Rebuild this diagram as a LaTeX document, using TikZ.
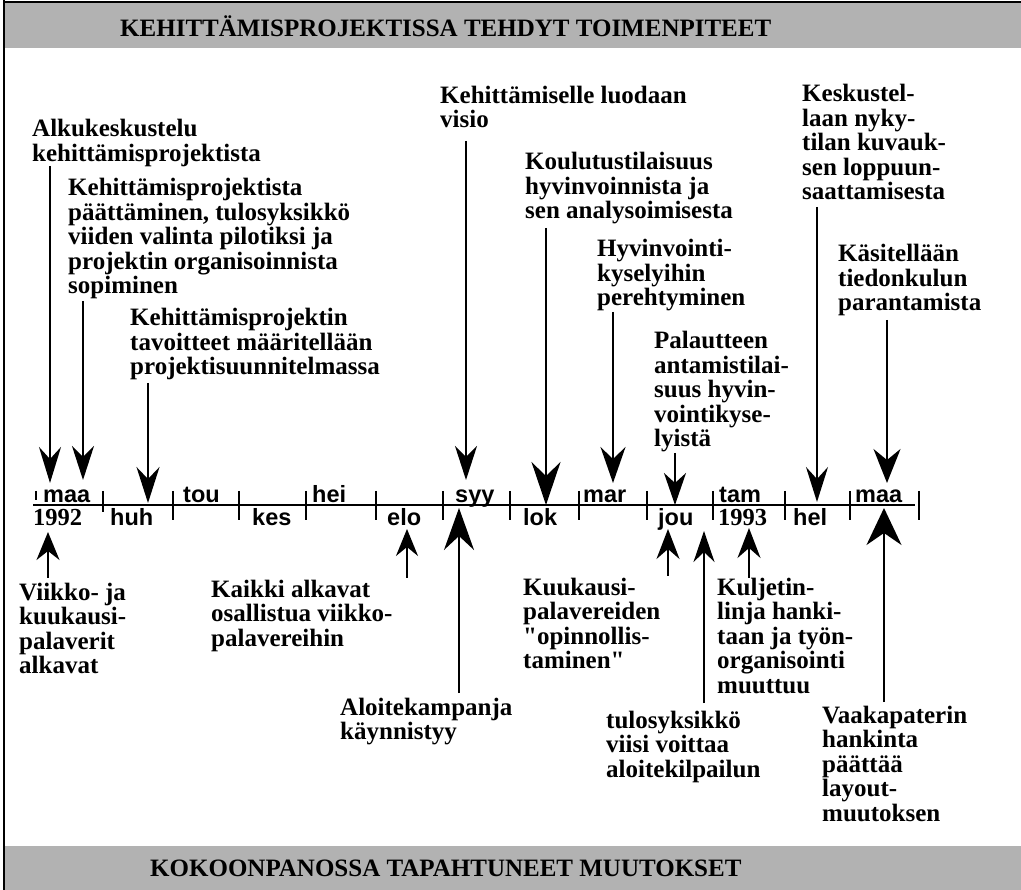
\documentclass[tikz,border=0pt]{standalone}
\usepackage{fontspec}
\setmainfont{Liberation Serif}
\newfontfamily\lsans{Liberation Sans}
\usetikzlibrary{arrows.meta}
\definecolor{band}{RGB}{178,178,178}
\newcommand{\sq}{\XeTeXglyph\XeTeXcharglyph"22\relax}
\begin{document}
\begin{tikzpicture}[x=1pt,y=-1pt,
  txt/.style={anchor=base west, align=left, inner sep=0pt, font=\bfseries\fontsize{25}{24.5}\selectfont},
  mon/.style={anchor=base west, inner sep=0pt, font=\lsans\bfseries\fontsize{23.5}{24}\selectfont},
  yr/.style={anchor=base west, inner sep=0pt, font=\bfseries\fontsize{24.5}{24}\selectfont},
  ttl/.style={anchor=base west, inner sep=0pt, font=\bfseries\fontsize{25}{25}\selectfont},
  tickline/.style={line width=2pt},
  arr/.style n args={3}{line width=2pt, -{Stealth[length=#1pt,width=#2pt,inset=#3pt]}},
]
\useasboundingbox (0,0) rectangle (1021,890);
% bands and frame
\fill[band] (4,2) rectangle (1021,48);
\fill[band] (4,846) rectangle (1021,890);
\draw[line width=2pt] (3,2) -- (1021,2);
\draw[line width=2.5pt] (4,0) -- (4,890);
\node[ttl] (hdr) at (120,37) {KEHITTÄMISPROJEKTISSA TEHDYT TOIMENPITEET};
\node[ttl] (ftr) at (150,876) {KOKOONPANOSSA TAPAHTUNEET MUUTOKSET};

% axis
\coordinate (ax0) at (33,505);
\coordinate (ax1) at (915,505);
\draw[line width=2pt] (ax0) -- (ax1);
\draw[tickline] (36,491) -- (36,500);
\draw[tickline] (103,491) -- (103,512);
\foreach \x in {173,239,306,376,443,510,579,647,713,785,850,919}
  \draw[tickline] (\x,491) -- (\x,520);

% month labels
\node[mon] (m1) at (43,503) {maa};
\node[mon] (m3) at (183,503) {tou};
\node[mon] (m5) at (312,503) {hei};
\node[mon] (m7) at (455,503) {syy};
\node[mon] (m9) at (583,503) {mar};
\node[mon] (m11) at (719,503) {tam};
\node[mon] (m13) at (855,503) {maa};
\node[yr] (y92) at (33,526) {1992};
\node[mon] (m2) at (110,526) {huh};
\node[mon] (m4) at (252,526) {kes};
\node[mon] (m6) at (387,526) {elo};
\node[mon] (m8) at (523,526) {lok};
\node[mon] (m10) at (658,526) {jou};
\node[yr] (y93) at (718,526) {1993};
\node[mon] (m12) at (793,526) {hel};

% upper texts (anchor = baseline of last line)
\node[txt] (tA) at (32,161.5) {Alkukeskustelu\\kehittämisprojektista};
\node[txt] (tB) at (68,294) {Kehittämisprojektista\\päättäminen, tulosyksikkö\\viiden valinta pilotiksi ja\\projektin organisoinnista\\sopiminen};
\node[txt] (tC) at (130,375) {Kehittämisprojektin\\tavoitteet määritellään\\projektisuunnitelmassa};
\node[txt] (tD) at (440,128) {Kehittämiselle luodaan\\visio};
\node[txt] (tE) at (525,219) {Koulutustilaisuus\\hyvinvoinnista ja\\sen analysoimisesta};
\node[txt] (tF) at (597,306) {Hyvinvointi-\\kyselyihin\\perehtyminen};
\node[txt] (tG) at (654,447) {Palautteen\\antamistilai-\\suus hyvin-\\vointikyse-\\lyistä};
\node[txt] (tH) at (802,200) {Keskustel-\\laan nyky-\\tilan kuvauk-\\sen loppuun-\\saattamisesta};
\node[txt] (tI) at (838,311) {Käsitellään\\tiedonkulun\\parantamista};

% lower texts
\node[txt] (bA) at (19,673.5) {Viikko- ja\\kuukausi-\\palaverit\\alkavat};
\node[txt] (bB) at (211,646) {Kaikki alkavat\\osallistua viikko-\\palavereihin};
\node[txt] (bC) at (340,739.5) {Aloitekampanja\\käynnistyy};
\node[txt] (bD) at (523,668.5) {Kuukausi-\\palavereiden\\\sq opinnollis-\\taminen\sq};
\node[txt] (bE) at (606,777) {tulosyksikkö\\viisi voittaa\\aloitekilpailun};
\node[txt] (bF) at (717,693) {Kuljetin-\\linja hanki-\\taan ja työn-\\organisointi\\muuttuu};
\node[txt] (bG) at (822,821) {Vaakapaterin\\hankinta\\päättää\\layout-\\muutoksen};

% upper arrows
\coordinate (a1s) at (50,166);  \coordinate (a1e) at (50,483);
\coordinate (a2s) at (83,301);  \coordinate (a2e) at (83,480);
\coordinate (a3s) at (148,383); \coordinate (a3e) at (148,503);
\coordinate (a4s) at (466,141); \coordinate (a4e) at (466,480);
\coordinate (a5s) at (546,228); \coordinate (a5e) at (546,505);
\coordinate (a6s) at (613,312); \coordinate (a6e) at (613,483);
\coordinate (a7s) at (675,453); \coordinate (a7e) at (675,505);
\coordinate (a8s) at (817,207); \coordinate (a8e) at (817,502);
\coordinate (a9s) at (887,320); \coordinate (a9e) at (887,483);
\draw[arr={36}{22}{12}] (a1s) -- (a1e);
\draw[arr={34}{22}{11}] (a2s) -- (a2e);
\draw[arr={36}{23}{12}] (a3s) -- (a3e);
\draw[arr={34}{22}{11}] (a4s) -- (a4e);
\draw[arr={43}{29}{14}] (a5s) -- (a5e);
\draw[arr={36}{25}{12}] (a6s) -- (a6e);
\draw[arr={32}{22}{10}] (a7s) -- (a7e);
\draw[arr={35}{22}{12}] (a8s) -- (a8e);
\draw[arr={34}{27}{11}] (a9s) -- (a9e);

% lower arrows
\coordinate (b1s) at (48,578);  \coordinate (b1e) at (48,532);
\coordinate (b2s) at (407,578); \coordinate (b2e) at (407,529);
\coordinate (b3s) at (459,693); \coordinate (b3e) at (459,508);
\coordinate (b4s) at (668,576); \coordinate (b4e) at (668,529);
\coordinate (b5s) at (704,703); \coordinate (b5e) at (704,531);
\coordinate (b6s) at (749,578); \coordinate (b6e) at (749,528);
\coordinate (b7s) at (884,702); \coordinate (b7e) at (884,508);
\draw[arr={28}{23}{9}] (b1s) -- (b1e);
\draw[arr={27}{22}{9}] (b2s) -- (b2e);
\draw[arr={42}{30}{14}] (b3s) -- (b3e);
\draw[arr={30}{23}{10}] (b4s) -- (b4e);
\draw[arr={31}{21}{10}] (b5s) -- (b5e);
\draw[arr={30}{23}{10}] (b6s) -- (b6e);
\draw[arr={37}{35}{12}] (b7s) -- (b7e);
\end{tikzpicture}
\end{document}
